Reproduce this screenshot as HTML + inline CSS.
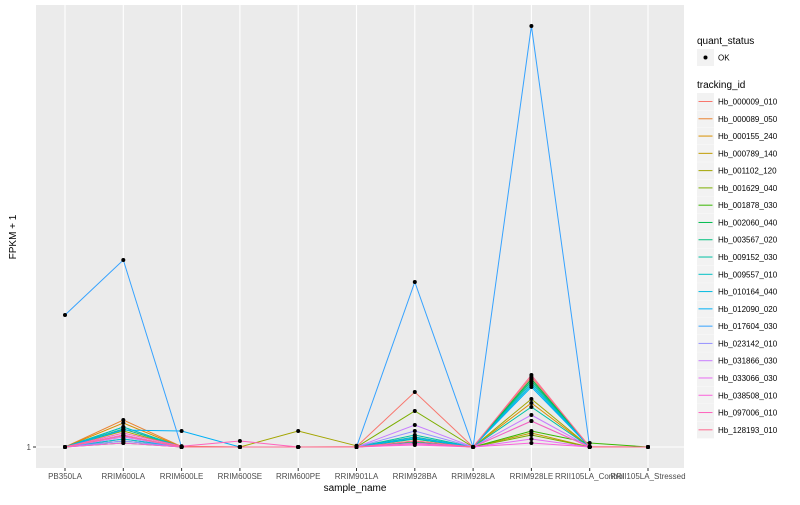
<!DOCTYPE html>
<html><head><meta charset="utf-8"><style>
body{margin:0;background:#fff;font-family:"Liberation Sans",sans-serif}
svg text{font-family:"Liberation Sans",sans-serif}
</style></head><body>
<svg id="c" width="800" height="500"></svg>
<script>
const categories=["PB350LA","RRIM600LA","RRIM600LE","RRIM600SE","RRIM600PE","RRIM901LA","RRIM928BA","RRIM928LA","RRIM928LE","RRII105LA_Control","RRII105LA_Stressed"];
const trackingIds=["Hb_000009_010","Hb_000089_050","Hb_000155_240","Hb_000789_140","Hb_001102_120","Hb_001629_040","Hb_001878_030","Hb_002060_040","Hb_003567_020","Hb_009152_030","Hb_009557_010","Hb_010164_040","Hb_012090_020","Hb_017604_030","Hb_023142_010","Hb_031866_030","Hb_033066_030","Hb_038508_010","Hb_097006_010","Hb_128193_010"];
const colors=["#F8766D","#EA8331","#D89000","#C09B00","#A3A500","#7CAE00","#39B600","#00BB4E","#00BF7D","#00C1A3","#00BFC4","#00BAE0","#00B0F6","#35A2FF","#9590FF","#C77CFF","#E76BF3","#FA62DB","#FF62BC","#FF6C91"];
const s0=[1,5.5,1.2,1,1,1.1,14.75,1,18.5,1.1,1];
const s1=[1,7.75,1.1,1,1,1,3.5,1,18,1,1];
const s2=[1,7,1,1,1,1,2.5,1,12,1,1];
const s3=[1,4,1,1,1,1,2,1,4.5,1,1];
const s4=[1,5,1,1,5,1.3,3,1,13,1,1];
const s5=[1,3,1,1,1,1,10,1,4,1,1];
const s6=[1,2,1,1,1,1,2,1,5,2,1];
const s7=[1,6,1,1,1,1,2.2,1,18,1,1];
const s8=[1,2.5,1,1,1,1,3,1,17.5,1,1];
const s9=[1,5.5,1,1,1,1,4,1,11,1,1];
const s10=[1,6,1,1,1,1,3.5,1,17,1,1];
const s11=[1,3,1,1,1,1,2,1,16.5,1,1];
const s12=[1,5.25,5,1,1,1,3.2,1,16,1,1];
const s13=[34,47.75,1,1,1,1,42.25,1,106.25,1,1];
const s14=[1,2.5,1,1,1,1,5,1,7.5,1,1];
const s15=[1,3.5,1,1,1,1,6.5,1,9,1,1];
const s16=[1,4,1,1,1,1,2,1,3,1,1];
const s17=[1,2,1,1,1,1,1.5,1,2,1,1];
const s18=[1,4.5,1.2,2.5,1,1,1.8,1,7.5,1,1];
const s19=[1,3.8,1,1,1,1,2.5,1,19,1,1];
const series=[s0,s1,s2,s3,s4,s5,s6,s7,s8,s9,s10,s11,s12,s13,s14,s15,s16,s17,s18,s19];
const yTicks=[1];

const NS="http://www.w3.org/2000/svg";
const svg=document.getElementById('c');
function mk(t,a,p){const e=document.createElementNS(NS,t);for(const k in a)e.setAttribute(k,a[k]);(p||svg).appendChild(e);return e;}
const L=36,R=684,T=5,B=468;
const X0=65,X1=648;
function xS(i){return X0+(X1-X0)*i/(categories.length-1);}
function yS(v){return 447-(v-1)*4;}
const panel=mk('rect',{x:L,y:T,width:R-L,height:B-T,fill:'#EBEBEB'});

yTicks.forEach(v=>{const g=mk('line',{x1:L,x2:R,y1:yS(v),y2:yS(v),stroke:'#fff','stroke-width':1.1});

const tk=mk('line',{x1:L-3,x2:L,y1:yS(v),y2:yS(v),stroke:'#333'});

const t=mk('text',{x:L-5,y:yS(v)+3,'font-size':8,fill:'#4d4d4d','text-anchor':'end'});t.textContent=v;
});
categories.forEach((c,i)=>{const g=mk('line',{x1:xS(i),x2:xS(i),y1:T,y2:B,stroke:'#fff','stroke-width':1.1});

const tk=mk('line',{x1:xS(i),x2:xS(i),y1:B,y2:B+3,stroke:'#333'});

const t=mk('text',{x:xS(i),y:479,'font-size':8,fill:'#4d4d4d','text-anchor':'middle'});t.textContent=c;
});
series.forEach((s,j)=>{const p=mk('polyline',{points:s.map((v,i)=>xS(i)+','+yS(v)).join(' '),fill:'none',stroke:colors[j],'stroke-width':1});
});
series.forEach((s,j)=>{s.forEach((v,i)=>{const c=mk('circle',{cx:xS(i),cy:yS(v),r:2,fill:'#000'});
});});
let t=mk('text',{x:355,y:491,'font-size':10,fill:'#000','text-anchor':'middle'});t.textContent='sample_name';

t=mk('text',{x:0,y:0,'font-size':10,fill:'#000','text-anchor':'middle',transform:'translate(16,237) rotate(-90)'});t.textContent='FPKM + 1';

t=mk('text',{x:697,y:44,'font-size':10,fill:'#000'});t.textContent='quant_status';

let k=mk('rect',{x:697,y:49,width:17,height:17,fill:'#F2F2F2'});
k=mk('circle',{cx:705.5,cy:57.5,r:2,fill:'#000'});
t=mk('text',{x:718,y:60.5,'font-size':8,fill:'#000'});t.textContent='OK';

t=mk('text',{x:697,y:88,'font-size':10,fill:'#000'});t.textContent='tracking_id';

trackingIds.forEach((id,j)=>{const y=93+j*17.28;
const r=mk('rect',{x:697,y:y,width:17,height:17,fill:'#F2F2F2'});

const l=mk('line',{x1:698.5,x2:712.5,y1:y+8.5,y2:y+8.5,stroke:colors[j]});

const tx=mk('text',{x:718,y:y+11.5,'font-size':8,fill:'#000'});tx.textContent=id;
});
</script>
</body></html>
